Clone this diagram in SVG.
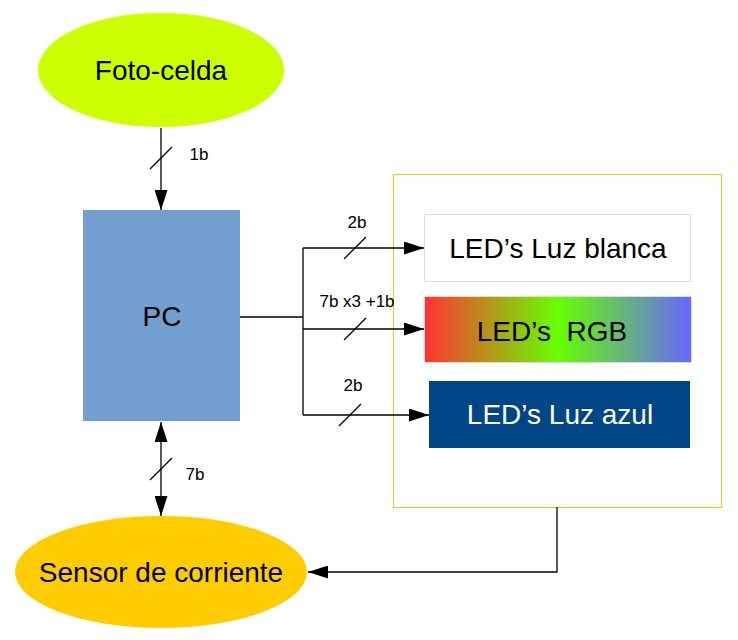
<svg xmlns="http://www.w3.org/2000/svg" width="738" height="640" viewBox="0 0 738 640">
<style>
text{font-family:"Liberation Sans",Arial,sans-serif;text-anchor:middle}
.big{font-size:28px}
.lbl{font-size:17px}
.w{stroke:#000;stroke-width:1.3;fill:none}
</style>
<defs>
<marker id="ah" markerUnits="userSpaceOnUse" markerWidth="20" markerHeight="13" refX="20" refY="6.5" orient="auto-start-reverse">
<path d="M0,0 L20,6.5 L0,13 z" fill="#000"/>
</marker>
<linearGradient id="rgb" x1="0" y1="0" x2="1" y2="0">
<stop offset="0" stop-color="#ff3333"/>
<stop offset="0.5" stop-color="#66ff00"/>
<stop offset="1" stop-color="#6666ff"/>
</linearGradient>
</defs>
<rect width="738" height="640" fill="#fff"/>
<g id="panel"><rect x="393.5" y="174.5" width="328" height="333" fill="#fff" stroke="#f5c518" stroke-width="1"/></g>
<g id="foto"><ellipse cx="161" cy="70" rx="123" ry="57" fill="#ccff00"/><text class="big" x="161" y="80">Foto-celda</text></g>
<g id="pc"><rect x="83" y="210" width="157" height="211" fill="#729fcf"/><text class="big" x="162" y="326">PC</text></g>
<g id="sensor"><ellipse cx="161" cy="572" rx="146" ry="56" fill="#ffcc00"/><text class="big" x="161" y="582">Sensor de corriente</text></g>
<g id="blanca"><rect x="424.5" y="214.5" width="266" height="67" fill="#fff" stroke="#dddddd"/><text class="big" x="558" y="258">LED’s Luz blanca</text></g>
<g id="rgbled"><rect x="424.5" y="296.5" width="267" height="66" fill="url(#rgb)" stroke="#dddddd"/><text class="big" x="552" y="341" xml:space="preserve">LED’s  RGB</text></g>
<g id="azul"><rect x="429" y="381" width="261" height="67" fill="#004586"/><text class="big" x="560" y="424" fill="#fff">LED’s Luz azul</text></g>
<g id="connectors">
<path class="w" d="M161,128 V210" marker-end="url(#ah)"/>
<path class="w" d="M150,169 L172,147"/>
<text class="lbl" x="199" y="160">1b</text>
<path class="w" d="M161,422 V516" marker-start="url(#ah)" marker-end="url(#ah)"/>
<path class="w" d="M150,480 L172,458"/>
<text class="lbl" x="195" y="480">7b</text>
<path class="w" d="M240,317 H303"/>
<path class="w" d="M303,248 V415"/>
<path class="w" d="M303,248 H424" marker-end="url(#ah)"/>
<path class="w" d="M303,329 H424" marker-end="url(#ah)"/>
<path class="w" d="M303,415 H429" marker-end="url(#ah)"/>
<path class="w" d="M344,259 L366,237"/>
<path class="w" d="M344,340 L366,318"/>
<path class="w" d="M339,426 L361,404"/>
<text class="lbl" x="357" y="228">2b</text>
<text class="lbl" x="357" y="307">7b x3 +1b</text>
<text class="lbl" x="353" y="391">2b</text>
<path class="w" d="M557,507 V572 H308" marker-end="url(#ah)"/>
</g>
</svg>
